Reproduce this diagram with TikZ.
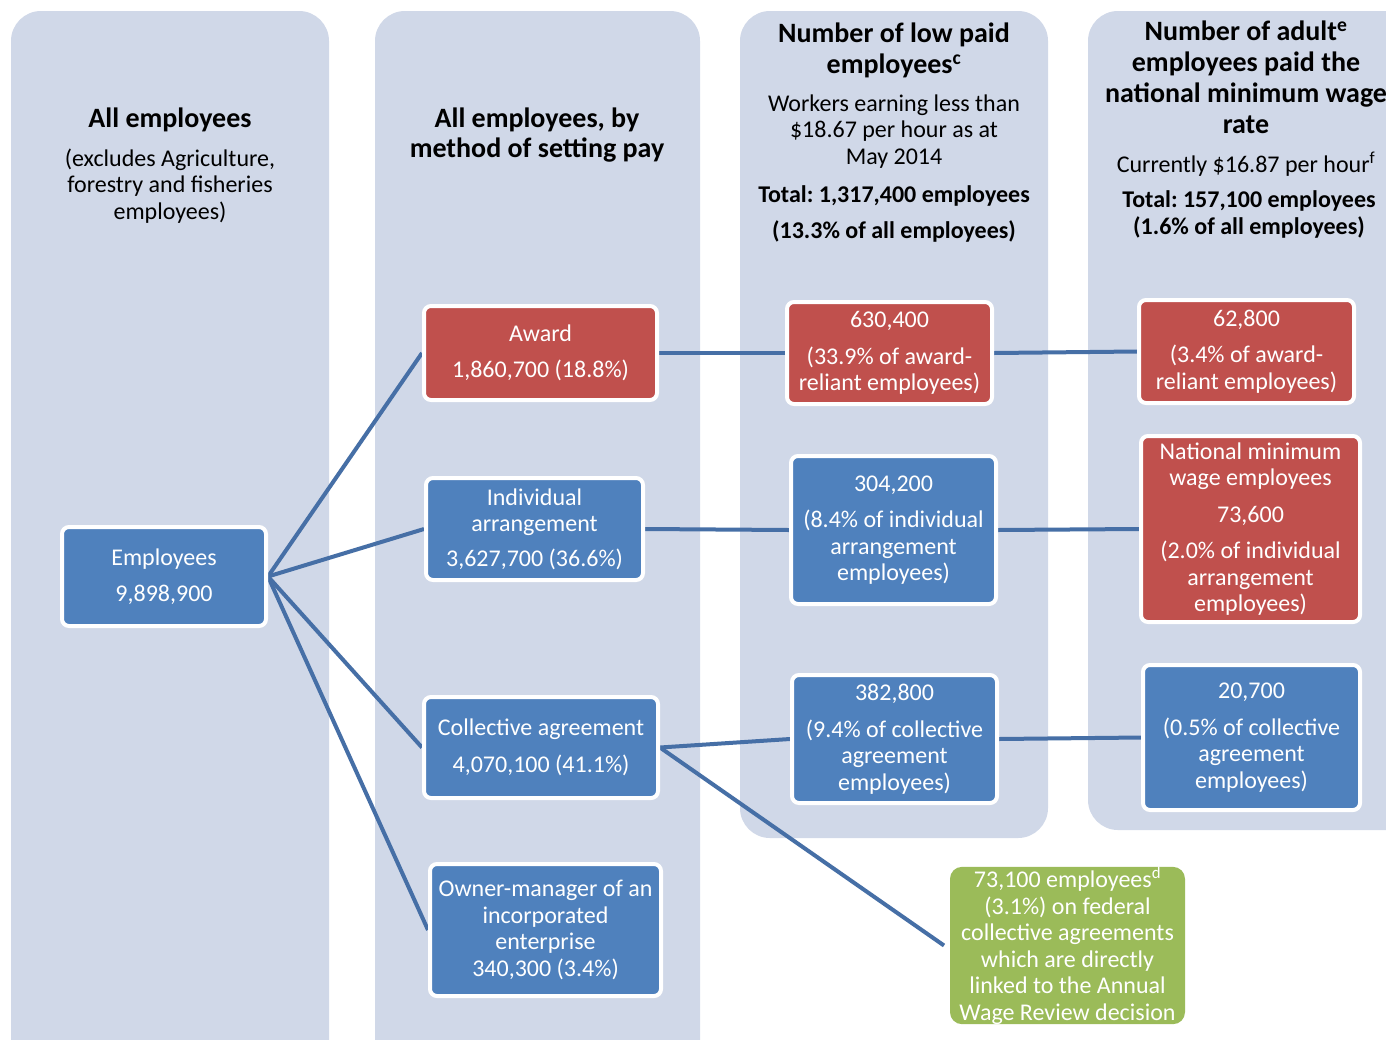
\documentclass[tikz,border=0pt]{standalone}
\usepackage{fontspec}
\setmainfont{Carlito}
\frenchspacing
\definecolor{panel}{RGB}{208,216,232}
\definecolor{boxblue}{RGB}{79,129,189}
\definecolor{boxred}{RGB}{192,80,77}
\definecolor{boxgreen}{RGB}{155,187,89}
\definecolor{linkblue}{RGB}{70,111,166}
\pgfdeclarelayer{bg}
\pgfdeclarelayer{mid}
\pgfsetlayers{bg,mid,main}
\begin{document}
\begin{tikzpicture}[x=1pt,y=-1pt,
  box/.style={rectangle, rounded corners=7pt, draw=white, line width=4pt, text=white, align=center, inner sep=0pt, font=\fontsize{24}{26.5}\selectfont},
  bluebox/.style={box, fill=boxblue},
  redbox/.style={box, fill=boxred},
  greenbox/.style={box, fill=boxgreen, draw=none, rounded corners=12pt},
  link/.style={draw=linkblue, line width=4pt},
  paneltitle/.style={align=center, text=black, font=\bfseries\fontsize{28}{31}\selectfont},
  panelsub/.style={align=center, text=black, font=\fontsize{24}{26.5}\selectfont},
  paneltotal/.style={align=center, text=black, font=\bfseries\fontsize{24}{27}\selectfont},
  panelshape/.style={fill=panel, rounded corners=30pt}
]
\useasboundingbox (0,0) rectangle (1386,1039);

\begin{pgfonlayer}{bg}
\fill[white] (0,0) rectangle (1386,1039);
\fill[panelshape] (11,11) rectangle (329,1070);
\fill[panelshape] (375,11) rectangle (700,1070);
\fill[panelshape] (740,11) rectangle (1048,838);
\fill[panelshape] (1088,11) rectangle (1430,830);
\end{pgfonlayer}

% headers
\node[paneltitle] (h1) at (170,120) {All employees};
\node[panelsub] (h1s) at (170,186) {(excludes Agriculture,\\forestry and fisheries\\employees)};
\node[paneltitle, font=\bfseries\fontsize{28}{30}\selectfont] (h2) at (537,135) {All employees, by\\method of setting pay};
\node[paneltitle] (h3) at (894,50.5) {Number of low paid\\employees\textsuperscript{c}};
\node[panelsub] (h3s) at (894,131.5) {Workers earning less than\\\$18.67 per hour as at\\May 2014};
\node[paneltotal] (h3t) at (894,196) {Total: 1,317,400 employees};
\node[paneltotal] (h3p) at (894,231) {(13.3\% of all employees)};
\node[paneltitle] (h4) at (1246,77.5) {Number of adult\textsuperscript{e}\\employees paid the\\national minimum wage\\rate};
\node[panelsub] (h4s) at (1246,164) {Currently \$16.87 per hour\textsuperscript{f}};
\node[paneltotal] (h4t) at (1249,214.5) {Total: 157,100 employees\\(1.6\% of all employees)};

% boxes
\node[bluebox, minimum width=204pt, minimum height=99pt] (emp) at (164,576.5) {Employees\\[10pt]9,898,900};
\node[redbox, minimum width=233pt, minimum height=94pt] (award) at (540.5,353) {Award\\[10pt]1,860,700 (18.8\%)};
\node[bluebox, minimum width=217pt, minimum height=102pt] (indiv) at (534.5,529) {Individual\\arrangement\\[8pt]3,627,700 (36.6\%)};
\node[bluebox, minimum width=234pt, minimum height=101pt] (coll) at (541,747.5) {Collective agreement\\[10pt]4,070,100 (41.1\%)};
\node[bluebox, minimum width=231pt, minimum height=132pt] (owner) at (545.5,930) {Owner-manager of an\\incorporated\\enterprise\\340,300 (3.4\%)};

\node[redbox, minimum width=205pt, minimum height=102pt] (low1) at (889.5,353) {630,400\\[10pt](33.9\% of award-\\reliant employees)};
\node[bluebox, minimum width=205pt, minimum height=148pt] (low2) at (893.5,530) {304,200\\[10pt](8.4\% of individual\\arrangement\\employees)};
\node[bluebox, minimum width=205pt, minimum height=128pt] (low3) at (894.5,739) {382,800\\[10pt](9.4\% of collective\\agreement\\employees)};

\node[redbox, minimum width=215pt, minimum height=103pt] (nmw1) at (1246.5,351.5) {62,800\\[10pt](3.4\% of award-\\reliant employees)};
\node[redbox, minimum width=219pt, minimum height=186pt] (nmw2) at (1250.5,529) {National minimum\\wage employees\\[10pt]73,600\\[10pt](2.0\% of individual\\arrangement\\employees)};
\node[bluebox, minimum width=217pt, minimum height=145pt] (nmw3) at (1251.5,737.5) {20,700\\[10pt](0.5\% of collective\\agreement\\employees)};

\node[greenbox, minimum width=235pt, minimum height=155pt] (fed) at (1067.5,945.5) {73,100 employees\textsuperscript{d}\\(3.1\%) on federal\\collective agreements\\which are directly\\linked to the Annual\\Wage Review decision};

% connectors
\begin{pgfonlayer}{mid}
\draw[link] (emp.east) -- (award.west);
\draw[link] (emp.east) -- (indiv.west);
\draw[link] (emp.east) -- (coll.west);
\draw[link] (emp.east) -- (owner.west);
\draw[link] (award.east) -- (low1.west);
\draw[link] (low1.east) -- (nmw1.west);
\draw[link] (indiv.east) -- (low2.west);
\draw[link] (low2.east) -- (nmw2.west);
\draw[link] (coll.east) -- (low3.west);
\draw[link] (low3.east) -- (nmw3.west);
\draw[link] (coll.east) -- ([xshift=-4pt]fed.west);
\end{pgfonlayer}
\end{tikzpicture}
\end{document}
